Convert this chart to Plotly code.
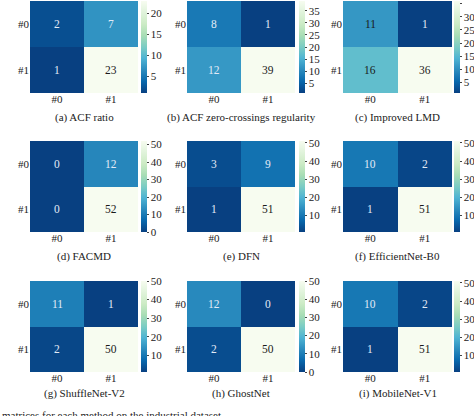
import plotly.graph_objects as go

# confusion matrices, rows = true (#0, #1), cols = predicted (#0, #1)
labels = ["#0", "#1"]
acf_ratio = [[2, 7], [1, 23]]
acf_zero = [[8, 1], [12, 39]]
improved_lmd = [[11, 1], [16, 36]]
facmd = [[0, 12], [0, 52]]
dfn = [[3, 9], [1, 51]]
efficientnet = [[10, 2], [1, 51]]
shufflenet = [[11, 1], [2, 50]]
ghostnet = [[12, 0], [2, 50]]
mobilenet = [[10, 2], [1, 51]]

matrices = [acf_ratio, acf_zero, improved_lmd, facmd, dfn, efficientnet,
            shufflenet, ghostnet, mobilenet]
captions = ["(a) ACF ratio", "(b) ACF zero-crossings regularity", "(c) Improved LMD",
            "(d) FACMD", "(e) DFN", "(f) EfficientNet-B0",
            "(g) ShuffleNet-V2", "(h) GhostNet", "(i) MobileNet-V1"]
cbar_dticks = [5, 5, 5, 10, 10, 10, 10, 10, 10]
# cells whose numbers are written dark
dark_cells = [[(1, 1)], [(1, 1)], [(0, 0), (1, 0), (1, 1)],
              [(1, 1)], [(1, 1)], [(1, 1)], [(1, 1)], [(1, 1)], [(1, 1)]]

gnbu_r = ["#084081", "#0868ac", "#2b8cbe", "#4eb3d3", "#7bccc4",
          "#a8ddb5", "#ccebc5", "#e0f3db", "#f7fcf0"]
scale = [[i / 8, c] for i, c in enumerate(gnbu_r)]

W, H = 474, 416
col_px = [(30, 138), (187, 295), (343, 452)]
cbar_px = [141, 299, 454]
row_px = [(1, 93), (141, 232), (281, 372)]
cap_px = [117, 256, 393]
FONT = "Liberation Serif, Times New Roman, serif"

fig = go.Figure()
layout = {}
annotations = []
for k, z in enumerate(matrices):
    r, c = divmod(k, 3)
    n = k + 1
    xa = "x" if n == 1 else f"x{n}"
    ya = "y" if n == 1 else f"y{n}"
    x0, x1 = col_px[c]
    y0, y1 = row_px[r]
    flat = [v for row in z for v in row]
    fig.add_trace(go.Heatmap(
        z=z, x=labels, y=labels, xaxis=xa, yaxis=ya,
        colorscale=scale, zmin=min(flat), zmax=max(flat),
        colorbar=dict(
            x=cbar_px[c] / W, xanchor="left", xpad=0, ypad=0, thickness=6,
            y=1 - (y0 + y1) / 2 / H, yanchor="middle",
            len=(y1 - y0), lenmode="pixels",
            outlinewidth=0, dtick=cbar_dticks[k],
            ticks="outside", ticklen=2, tickcolor="#444",
            tickfont=dict(family=FONT, size=11, color="#222"),
        ),
        hoverinfo="skip",
    ))
    layout["xaxis" if n == 1 else f"xaxis{n}"] = dict(
        domain=[x0 / W, x1 / W], anchor=ya, showgrid=False, zeroline=False,
        automargin=False, ticks="", ticklabelstandoff=-2,
        tickfont=dict(family=FONT, size=11, color="#222"))
    layout["yaxis" if n == 1 else f"yaxis{n}"] = dict(
        domain=[1 - y1 / H, 1 - y0 / H], anchor=xa, showgrid=False,
        zeroline=False, automargin=False, autorange="reversed", ticks="",
        tickfont=dict(family=FONT, size=11, color="#222"))
    for i in range(2):
        for j in range(2):
            dark = (i, j) in dark_cells[k]
            annotations.append(dict(
                x=labels[j], y=labels[i], xref=xa, yref=ya, text=str(z[i][j]),
                showarrow=False,
                font=dict(family=FONT, size=11.5,
                          color="#1a1a1a" if dark else "#e2ebf7")))
    annotations.append(dict(
        x=(x0 + x1) / 2 / W, y=1 - cap_px[r] / H, xref="paper", yref="paper",
        text=captions[k], showarrow=False, xanchor="center", yanchor="middle",
        font=dict(family=FONT, size=11, color="#222")))

annotations.append(dict(
    x=0, y=1 - 407 / H, xref="paper", yref="paper", xanchor="left",
    yanchor="top", showarrow=False,
    text="matrices for each method on the industrial dataset.",
    font=dict(family=FONT, size=11, color="#222")))

fig.update_layout(
    width=W, height=H, margin=dict(l=0, r=0, t=0, b=0, autoexpand=False),
    paper_bgcolor="white", plot_bgcolor="white",
    font=dict(family=FONT),
    annotations=annotations, **layout)

# the page's default body margin would shift the figure by 8px
fig.write_html("out.html", config={"displayModeBar": False},
               post_script="document.body.style.margin='0';")
